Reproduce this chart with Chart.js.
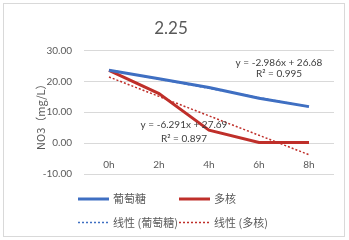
<!DOCTYPE html>
<html>
<head>
<meta charset="utf-8">
<script src="https://cdn.jsdelivr.net/npm/chart.js@4"></script>
<style>
  body { margin: 0; background: #fff; }
  #box { position: absolute; left: 3px; top: 3px; width: 340px; height: 232px; border: 1px solid #d9d9d9; }
</style>
</head>
<body>
<div id="box"><canvas id="myChart" width="340" height="232"></canvas></div>
<script>
// categories and values
const hours = ['0h', '2h', '4h', '6h', '8h'];
const glucose = [23.6, 20.8, 18.0, 14.5, 11.8];
const multi = [23.5, 16.0, 4.2, 0.2, 0.2];
// trend lines, from the equations printed on the chart
const glucoseTrend = [23.69, 20.71, 17.72, 14.74, 11.75];
const multiTrend = [21.40, 15.11, 8.82, 2.53, -3.77];
const yTicks = [-10, 0, 10, 20, 30];

const equations = [
  { x: 3.4, y: 26.0, text: 'y = -2.986x + 26.68' },
  { x: 3.4, y: 22.4, text: 'R² = 0.995' },
  { x: 1.5, y: 5.8, text: 'y = -6.291x + 27.69' },
  { x: 1.5, y: 1.3, text: 'R² = 0.897' }
];

const BLUE = '#3f6fc2';
const RED = '#bf2f2a';
const latin = 'Lato, "Noto Sans", sans-serif';
const cjk = '"Noto Sans CJK SC", "Noto Sans", sans-serif';

// texto de las ecuaciones y título del eje Y
const eqPlugin = {
  id: 'eqText',
  afterDraw(chart) {
    const ctx = chart.ctx;
    const xs = chart.scales.x, ys = chart.scales.y;
    ctx.save();
    ctx.font = '10px ' + latin;
    ctx.fillStyle = '#404040';
    ctx.textAlign = 'center';
    ctx.textBaseline = 'middle';
    equations.forEach(e => {
      ctx.fillText(e.text, xs.getPixelForValue(e.x), ys.getPixelForValue(e.y));
    });
    // eje Y
    const area = chart.chartArea;
    ctx.translate(area.left - 43, (area.top + area.bottom) / 2 + 2);
    ctx.rotate(-Math.PI / 2);
    ctx.font = '11px ' + cjk;
    ctx.fillStyle = '#595959';
    ctx.fillText('NO3（mg/L）', 0, 0);
    ctx.restore();
  }
};

// leyenda en dos columnas, como en Excel
const legendPlugin = {
  id: 'gridLegend',
  afterDraw(chart) {
    const ctx = chart.ctx;
    const left = chart.chartArea.left - 6;
    const top = chart.chartArea.bottom + 25;
    ctx.save();
    chart.data.datasets.forEach((ds, i) => {
      const x = left + (i % 2) * 101;
      const y = top + Math.floor(i / 2) * 23.5;
      ctx.beginPath();
      ctx.strokeStyle = ds.borderColor;
      ctx.lineWidth = ds.borderDash ? 1.5 : 3;
      ctx.setLineDash(ds.borderDash || []);
      ctx.moveTo(x, y);
      ctx.lineTo(x + 31, y);
      ctx.stroke();
      ctx.setLineDash([]);
      ctx.font = '11px ' + cjk;
      ctx.fillStyle = '#595959';
      ctx.textBaseline = 'middle';
      ctx.fillText(ds.label, x + 35, y);
    });
    ctx.restore();
  }
};

const ctx = document.getElementById('myChart').getContext('2d');
new Chart(ctx, {
  type: 'line',
  data: {
    labels: hours,
    datasets: [
      { label: '葡萄糖', data: glucose, borderColor: BLUE, borderWidth: 3, pointRadius: 0 },
      { label: '多核', data: multi, borderColor: RED, borderWidth: 3, pointRadius: 0 },
      { label: '线性 (葡萄糖)', data: glucoseTrend, borderColor: BLUE, borderWidth: 1.5, borderDash: [2, 2], pointRadius: 0 },
      { label: '线性 (多核)', data: multiTrend, borderColor: RED, borderWidth: 1.5, borderDash: [2, 2], pointRadius: 0 }
    ]
  },
  options: {
    responsive: false,
    animation: false,
    layout: { padding: { left: 4, right: 10, bottom: 62, top: 0 } },
    plugins: {
      legend: { display: false },
      tooltip: { enabled: false },
      title: {
        display: true,
        text: '2.25',
        color: '#595959',
        font: { family: latin, size: 17, weight: 'normal' },
        padding: { top: 14, bottom: 12 }
      }
    },
    scales: {
      x: {
        position: { y: 0 },
        offset: true,
        grid: { display: false, drawTicks: false },
        border: { display: false },
        ticks: { color: '#595959', font: { family: latin, size: 10 }, padding: 16 }
      },
      y: {
        min: -10,
        max: 30,
        afterBuildTicks(scale) { scale.ticks = yTicks.map(v => ({ value: v })); },
        afterFit(scale) { scale.width = 76; },
        grid: { color: '#d9d9d9', drawTicks: false },
        border: { display: false },
        ticks: {
          color: '#595959',
          font: { family: latin, size: 10 },
          padding: 12,
          callback: v => v.toFixed(2)
        }
      }
    }
  },
  plugins: [eqPlugin, legendPlugin]
});
</script>
</body>
</html>
